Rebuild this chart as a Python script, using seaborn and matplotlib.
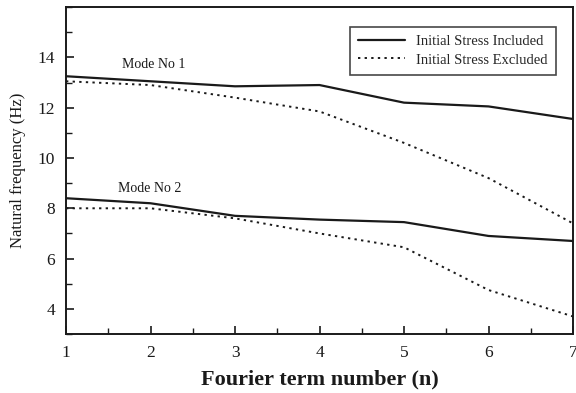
import matplotlib
matplotlib.use("Agg")
import matplotlib.pyplot as plt
import seaborn as sns
import pandas as pd
from matplotlib.ticker import MultipleLocator

sns.set_theme(style="white")
plt.rcParams['font.family'] = ['Liberation Serif', 'DejaVu Serif']

n_terms = [1, 2, 3, 4, 5, 6, 7]
mode1_included = [13.25, 13.05, 12.85, 12.9, 12.2, 12.05, 11.55]
mode1_excluded = [13.05, 12.9, 12.4, 11.85, 10.6, 9.2, 7.4]
mode2_included = [8.4, 8.2, 7.7, 7.55, 7.45, 6.9, 6.7]
mode2_excluded = [8.0, 8.0, 7.6, 7.0, 6.45, 4.75, 3.7]
legend_labels = ["Initial Stress Included", "Initial Stress Excluded"]
mode_labels = ["Mode No 1", "Mode No 2"]

fig = plt.figure(figsize=(5.76, 3.93), dpi=100)
ax = fig.add_axes([0.1146, 0.150, 0.8802, 0.832])

col = "#1a1a1a"
sns.lineplot(x=n_terms, y=mode1_included, ax=ax, color=col, lw=1.6, label=legend_labels[0])
sns.lineplot(x=n_terms, y=mode1_excluded, ax=ax, color=col, lw=1.4, linestyle=(0, (1.2, 2.2)), label=legend_labels[1])
sns.lineplot(x=n_terms, y=mode2_included, ax=ax, color=col, lw=1.6)
sns.lineplot(x=n_terms, y=mode2_excluded, ax=ax, color=col, lw=1.4, linestyle=(0, (1.2, 2.2)))

ax.set_xlim(1, 7)
ax.set_ylim(3, 16)
ax.xaxis.set_major_locator(MultipleLocator(1))
ax.xaxis.set_minor_locator(MultipleLocator(0.5))
ax.yaxis.set_minor_locator(MultipleLocator(1))
ax.set_yticks([4, 6, 8, 10, 12, 14])
ax.tick_params(which='major', direction='in', length=6, width=1.2, labelsize=12.5, colors=col, pad=8)
ax.tick_params(which='minor', direction='in', length=4, width=1.0, colors=col)
ax.tick_params(axis='x', which='both', bottom=True, top=False)
ax.tick_params(axis='y', which='both', left=True, right=False)
for s in ax.spines.values():
    s.set_color(col)
    s.set_linewidth(1.4)

ax.set_xlabel("Fourier term number (n)", fontsize=16, fontweight='bold', color=col, labelpad=6)
ax.set_ylabel("Natural frequency (Hz)", fontsize=12, color=col, labelpad=8)

ax.text(1.66, 13.7, mode_labels[0], fontsize=10, color=col, va='center')
ax.text(1.62, 8.78, mode_labels[1], fontsize=10, color=col, va='center')

leg = ax.legend(loc='upper right', bbox_to_anchor=(0.966, 0.939), borderaxespad=0, fontsize=10.5,
                frameon=True, fancybox=False, edgecolor=col, handlelength=3.2, borderpad=0.55,
                labelspacing=0.35)
leg.get_frame().set_linewidth(1.2)

fig.savefig("out.png", dpi=100)
